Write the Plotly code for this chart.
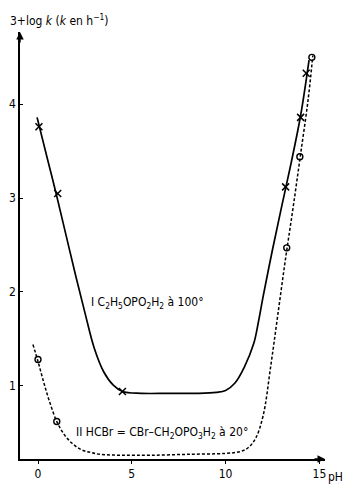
import plotly.graph_objects as go

# Curve I (solid): C2H5OPO2H2 at 100 deg
ph_I_line = [-0.05, 0.5, 1.0, 1.5, 2.0, 2.5, 3.0, 3.5, 4.0, 4.5, 5.5, 7.0, 8.5, 9.5,
             10.0, 10.5, 11.0, 11.5, 11.75, 12.0, 12.5, 13.0, 13.5, 14.0, 14.45]
val_I_line = [3.86, 3.42, 3.02, 2.6, 2.18, 1.78, 1.4, 1.15, 1.01, 0.94, 0.92, 0.92, 0.92, 0.93,
              0.95, 1.03, 1.2, 1.45, 1.68, 1.95, 2.45, 2.92, 3.38, 3.88, 4.47]
ph_I_pts = [0.05, 1.05, 4.5, 13.2, 14.0, 14.3]
val_I_pts = [3.76, 3.05, 0.94, 3.12, 3.86, 4.33]

# Curve II (dashed): HCBr=CBr-CH2OPO3H2 at 20 deg
ph_II_line = [-0.27, 0.0, 0.3, 0.6, 1.0, 1.4, 1.8, 2.3, 2.8, 3.3, 4.5, 6.0, 8.0, 10.0,
              10.8, 11.2, 11.6, 12.0, 12.4, 12.8, 13.2, 13.6, 14.0, 14.4, 14.65]
val_II_line = [1.44, 1.26, 1.04, 0.84, 0.62, 0.48, 0.39, 0.32, 0.29, 0.27, 0.26, 0.26, 0.27, 0.28,
               0.3, 0.34, 0.44, 0.68, 1.2, 1.78, 2.36, 2.9, 3.47, 4.05, 4.52]
ph_II_pts = [0.0, 1.0, 13.26, 13.96, 14.6]
val_II_pts = [1.28, 0.62, 2.47, 3.44, 4.5]

x_ticks = [0, 5, 10, 15]
x_tick_labels = ["0", "5", "10", "15"]
y_ticks = [1, 2, 3, 4]
y_tick_labels = ["1", "2", "3", "4"]

FONT = "DejaVu Sans Condensed, Liberation Sans Narrow, Arial Narrow, Liberation Sans, sans-serif"

fig = go.Figure()
fig.add_trace(go.Scatter(x=ph_I_line, y=val_I_line, mode="lines",
                         line=dict(color="black", width=1.7, shape="spline", smoothing=1.0),
                         showlegend=False, hoverinfo="skip"))
fig.add_trace(go.Scatter(x=ph_II_line, y=val_II_line, mode="lines",
                         line=dict(color="black", width=1.5, dash="3px,2px", shape="spline", smoothing=1.0),
                         showlegend=False, hoverinfo="skip"))
fig.add_trace(go.Scatter(x=ph_I_pts, y=val_I_pts, mode="markers",
                         marker=dict(symbol="x-thin", size=7, line=dict(color="black", width=1.5), color="black"),
                         showlegend=False))
fig.add_trace(go.Scatter(x=ph_II_pts, y=val_II_pts, mode="markers",
                         marker=dict(symbol="circle-open", size=6, line=dict(color="black", width=1.4), color="black"),
                         showlegend=False))

fig.add_annotation(x=2.7, y=1.88, xref="x", yref="y", xanchor="left", yanchor="middle", showarrow=False,
                   text="I C<sub>2</sub>H<sub>5</sub>OPO<sub>2</sub>H<sub>2</sub> à 100°",
                   font=dict(family=FONT, size=12, color="black"))
fig.add_annotation(x=1.9, y=0.5, xref="x", yref="y", xanchor="left", yanchor="middle", showarrow=False,
                   text="II HCBr = CBr–CH<sub>2</sub>OPO<sub>3</sub>H<sub>2</sub> à 20°",
                   font=dict(family=FONT, size=12, color="black"))
fig.add_annotation(x=-0.04, y=1.028, xref="paper", yref="paper", xanchor="left", yanchor="middle",
                   showarrow=False, text="3+log <i>k</i> (<i>k</i> en h<sup>−1</sup>)",
                   font=dict(family=FONT, size=12, color="black"))
fig.add_annotation(x=1.066, y=-0.042, xref="paper", yref="paper", xanchor="right", yanchor="middle",
                   showarrow=False, text="pH", font=dict(family=FONT, size=12, color="black"))
# axis arrowheads
fig.add_annotation(x=0, y=1, xref="paper", yref="paper", ax=0, ay=12, text="", showarrow=True,
                   arrowhead=2, arrowsize=1, arrowwidth=1.5, arrowcolor="black")
fig.add_annotation(x=1, y=0, xref="paper", yref="paper", ax=-12, ay=0, text="", showarrow=True,
                   arrowhead=2, arrowsize=1, arrowwidth=1.5, arrowcolor="black")

fig.update_layout(
    width=345, height=484,
    margin=dict(l=20, r=20, t=32, b=25, autoexpand=False),
    paper_bgcolor="white", plot_bgcolor="white",
    font=dict(family=FONT, size=12, color="black"),
    xaxis=dict(range=[-0.96, 15.3], tickvals=x_ticks, ticktext=x_tick_labels,
               showgrid=False, zeroline=False, showline=True, linecolor="black", linewidth=1.7,
               ticks="outside", ticklen=3, tickwidth=1.2, tickcolor="black", automargin=False,
               tickfont=dict(family=FONT, size=12, color="black")),
    yaxis=dict(range=[0.22, 4.77], tickvals=y_ticks, ticktext=y_tick_labels,
               showgrid=False, zeroline=False, showline=True, linecolor="black", linewidth=1.7,
               ticks="inside", ticklen=3, tickwidth=1.2, tickcolor="black", automargin=False,
               tickfont=dict(family=FONT, size=12, color="black")),
)

# remove the default 8px page margin so the figure sits at the window's corner
fig.write_html("out.html", config={"displayModeBar": False},
               post_script="document.body.style.margin='0';")
